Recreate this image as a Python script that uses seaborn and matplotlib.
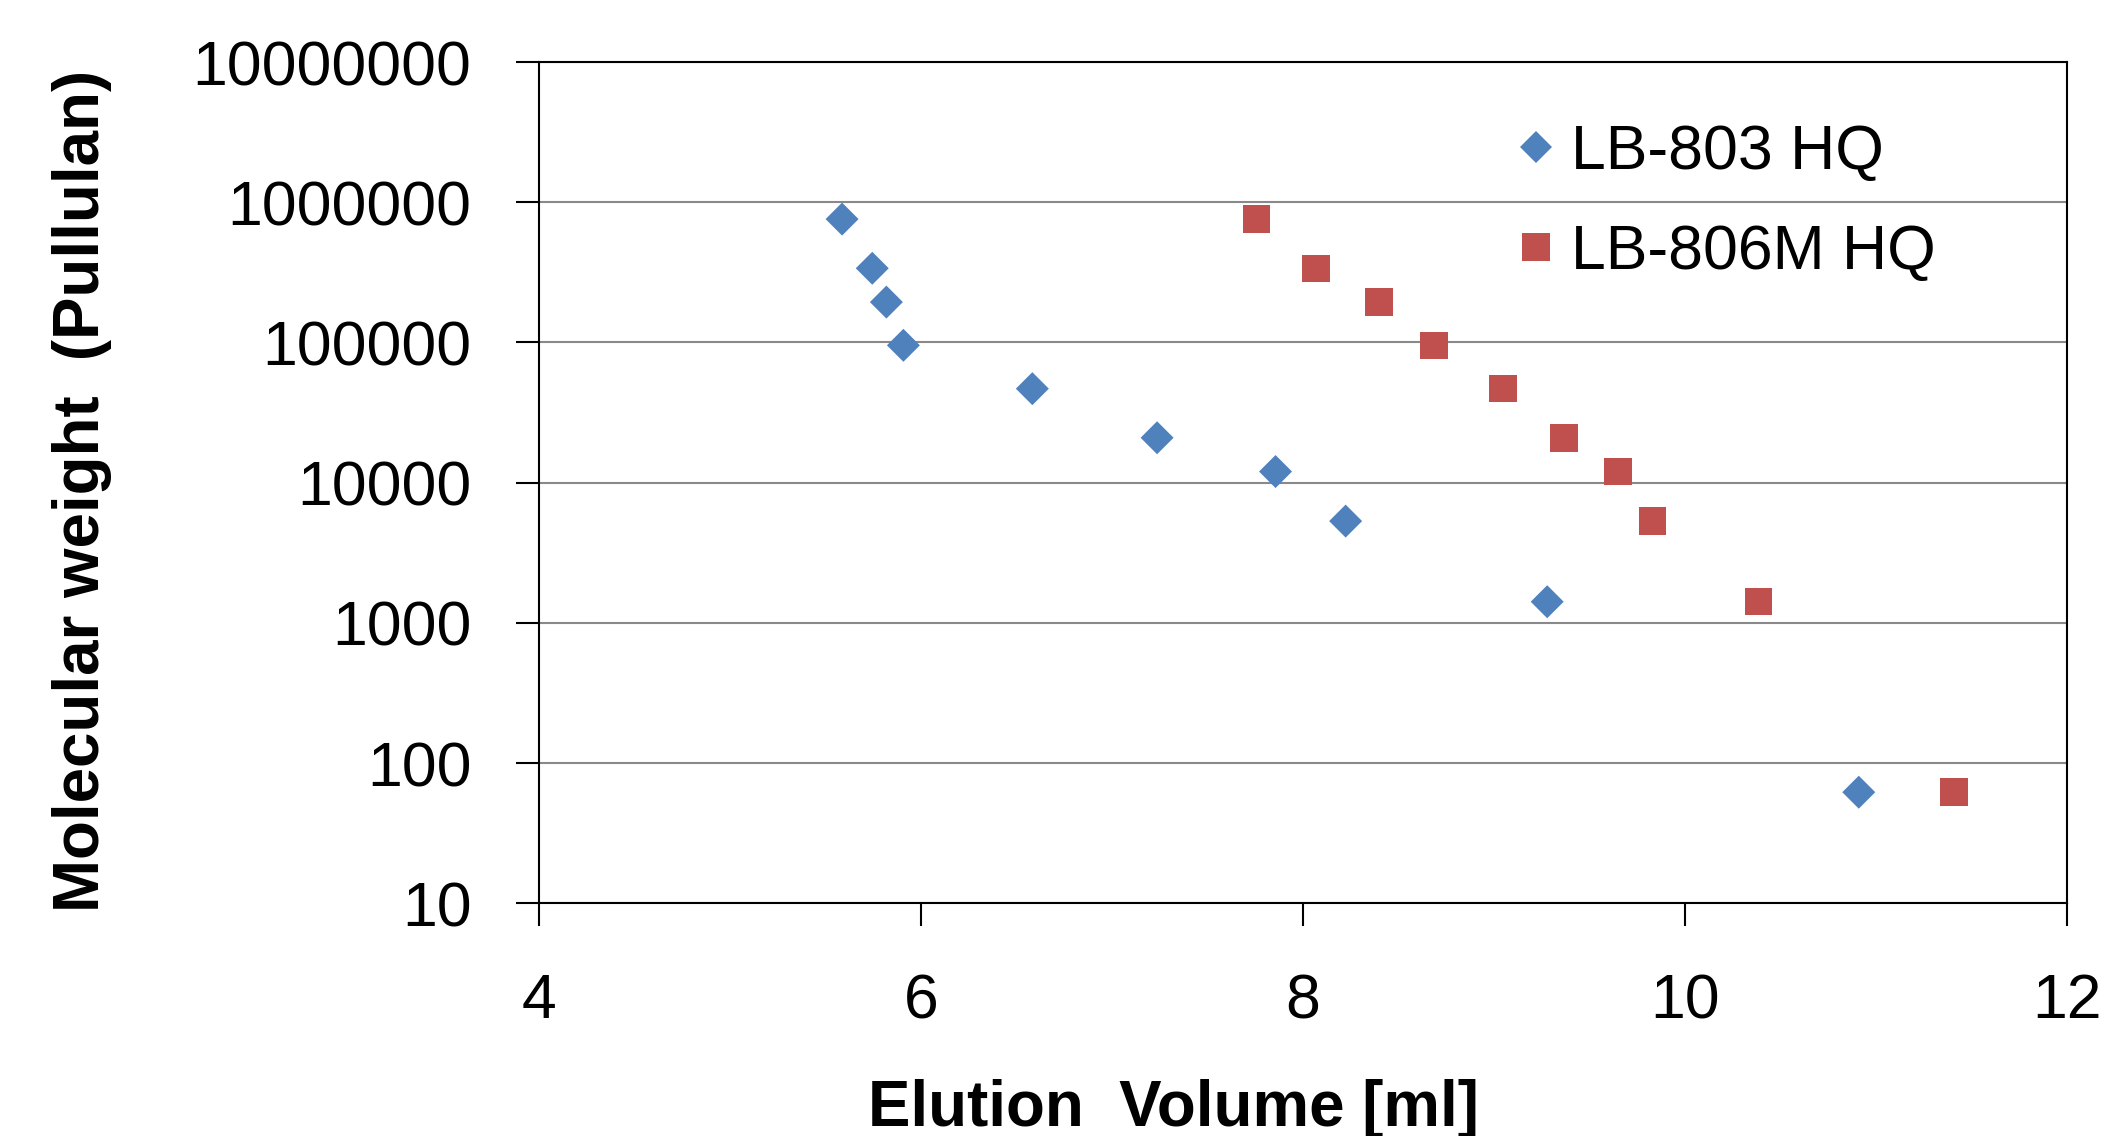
import numpy as np
import pandas as pd
import matplotlib
matplotlib.use('Agg')
import matplotlib.pyplot as plt
from matplotlib.lines import Line2D
from matplotlib.ticker import FixedLocator, FuncFormatter, NullLocator
import seaborn as sns

# ---------------- data ----------------
series_names = ['LB-803 HQ', 'LB-806M HQ']
molecular_weight = [758000, 338000, 194000, 95400, 46800, 20900, 12000, 5320, 1415, 62]
elution_lb803 = [5.588, 5.746, 5.820, 5.909, 6.584, 7.237, 7.857, 8.224, 9.279, 10.910]
elution_lb806m = [7.758, 8.068, 8.398, 8.686, 9.048, 9.367, 9.649, 9.829, 10.384, 11.408]
x_ticks = [4, 6, 8, 10, 12]
y_ticks = [10, 100, 1000, 10000, 100000, 1000000, 10000000]
x_label = 'Elution  Volume [ml]'
y_label = 'Molecular weight  (Pullulan)'
colors = ['#4F81BD', '#C0504D']

# ---------------- style ----------------
sns.set_theme(style='white')
plt.rcParams['font.family'] = ['Liberation Sans', 'DejaVu Sans']
plt.rcParams['text.color'] = 'black'
plt.rcParams['axes.labelcolor'] = 'black'
plt.rcParams['xtick.color'] = 'black'
plt.rcParams['ytick.color'] = 'black'

df = pd.DataFrame({
    'Elution': elution_lb803 + elution_lb806m,
    'MW': molecular_weight + molecular_weight,
    'Column': [series_names[0]] * len(elution_lb803) + [series_names[1]] * len(elution_lb806m),
})

fig = plt.figure(figsize=(21.03, 11.36), dpi=100)
ax = fig.add_axes([0.25616, 0.20484, 0.72672, 0.74058])

palette = dict(zip(series_names, colors))
markers = {series_names[0]: 'D', series_names[1]: 's'}
sizes = {series_names[0]: 282, series_names[1]: 392}

sns.scatterplot(data=df, x='Elution', y='MW', hue='Column', style='Column', size='Column',
                palette=palette, markers=markers, sizes=sizes, linewidth=0,
                legend=False, ax=ax, zorder=3)

ax.set_yscale('log')
ax.set_xlim(4, 12)
ax.set_ylim(10, 1e7)
ax.xaxis.set_major_locator(FixedLocator(x_ticks))
ax.yaxis.set_major_locator(FixedLocator(y_ticks))
ax.yaxis.set_minor_locator(NullLocator())
ax.xaxis.set_minor_locator(NullLocator())
ax.yaxis.set_major_formatter(FuncFormatter(lambda v, p: f'{int(round(v))}'))
ax.xaxis.set_major_formatter(FuncFormatter(lambda v, p: f'{int(round(v))}'))

ax.set_axisbelow(True)
ax.yaxis.grid(True, color='#898989', linewidth=1.5)
ax.xaxis.grid(False)

for sp in ax.spines.values():
    sp.set_visible(True)
    sp.set_color('black')
    sp.set_linewidth(1.5)

ax.tick_params(axis='both', which='major', direction='out', length=16.8, width=1.5,
               color='black', labelsize=45, labelcolor='black')
ax.tick_params(axis='x', bottom=True, pad=33)
ax.tick_params(axis='y', left=True, pad=31.5)

ax.set_xlabel(x_label, fontsize=45.8, fontweight='bold', color='black')
ax.set_ylabel(y_label, fontsize=45.8, fontweight='bold', color='black')
ax.xaxis.set_label_coords(0.4154, -0.209)
ax.yaxis.set_label_coords(-0.2795, 0.4904)

handles = [
    Line2D([], [], marker='D', color=colors[0], linestyle='', markersize=16.8, markeredgewidth=0),
    Line2D([], [], marker='s', color=colors[1], linestyle='', markersize=19.8, markeredgewidth=0),
]
leg = ax.legend(handles, series_names, loc='upper left', bbox_to_anchor=(0.640, 0.9275),
                frameon=False, fontsize=45, handlelength=0.6, handletextpad=0.26,
                borderpad=0, borderaxespad=0, labelspacing=0.65)
for t in leg.get_texts():
    t.set_color('black')

fig.savefig('out.png', dpi=100, facecolor='white')
